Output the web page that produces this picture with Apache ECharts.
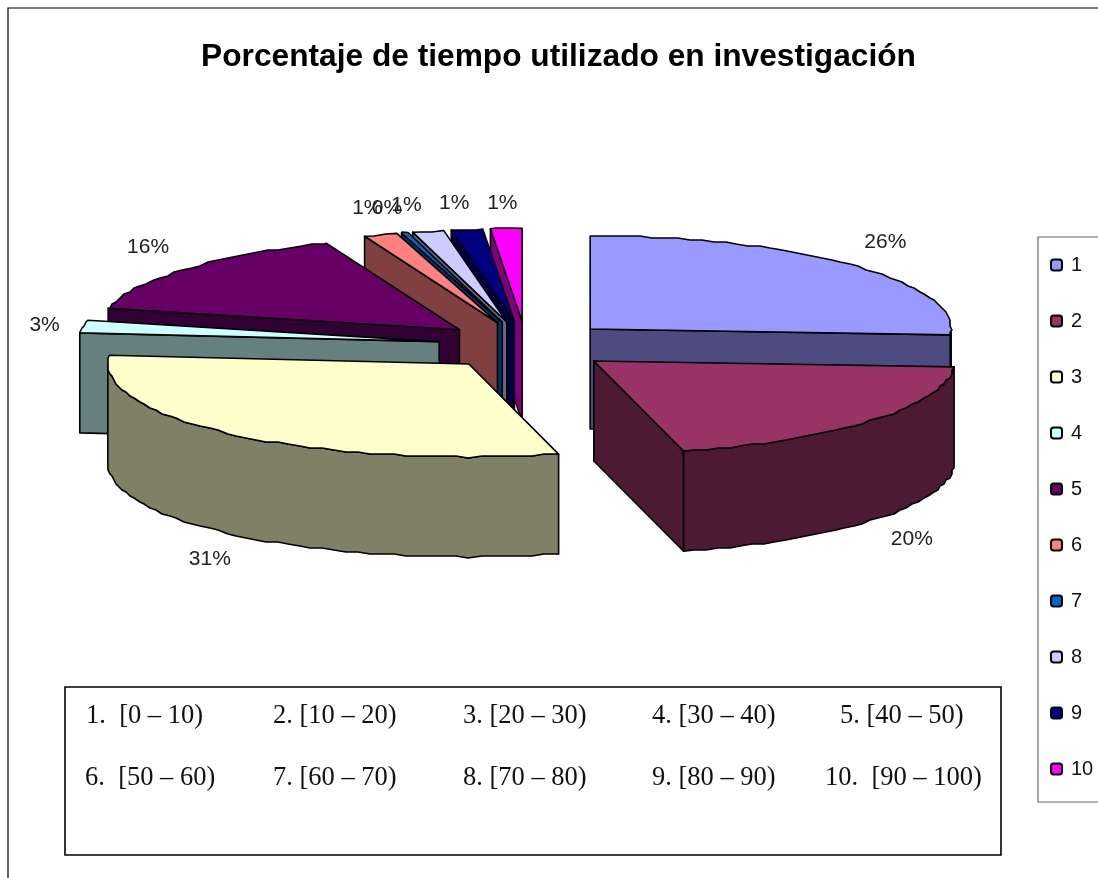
<!DOCTYPE html>
<html><head><meta charset="utf-8">
<style>html,body{margin:0;padding:0;background:#fff}#c{width:1098px;height:878px}</style>
<script src="https://cdn.jsdelivr.net/npm/echarts@6/dist/echarts.min.js"></script>
</head><body><div id="c"></div>
<script>
const titleText = 'Porcentaje de tiempo utilizado en investigación';
const categories = ['1','2','3','4','5','6','7','8','9','10'];
const shares = [26, 20, 30.5, 2.2, 15.3, 1.5, 0.3, 1.4, 1.4, 1.4];
const percentLabels = ['26%','20%','31%','3%','16%','1%','0%','1%','1%','1%'];
const faceColors = ['#9999FF','#993366','#FFFFCC','#CCFFFF','#660066','#FF8080','#0066CC','#CCCCFF','#000080','#FF00FF'];
const wallColors = ['#4C4C80','#4D1A33','#808066','#668080','#330033','#804040','#003366','#666680','#000040','#800080'];
const rangeRow1 = ['1.  [0 – 10)','2. [10 – 20)','3. [20 – 30)','4. [30 – 40)','5. [40 – 50)'];
const rangeRow2 = ['6.  [50 – 60)','7. [60 – 70)','8. [70 – 80)','9. [80 – 90)','10.  [90 – 100)'];
const drawOrder = [9,8,7,6,5,4,3,2,0,1];

const CX=526, CY=345.6, RX=361, RY=93, DEPTH=100, EXX=88, EXY=24.2, LBX=44, LBY=30, SNAP=2, STEP=2;
const labelNudge = [[0,-3],[6,0],[4,2],[5,4],[-5,-2],[1,2],[-6,4],[-12,3],[-7,4],[-2,5]];
const total = shares.reduce((a,b)=>a+b,0);
const cumBefore = shares.map((_,i)=>shares.slice(0,i).reduce((a,b)=>a+b,0));
const rad = d=>d*Math.PI/180;

function renderSlice(params, api){
  const i = params.seriesIndex, idx = drawOrder[i];
  const v = api.value(0), c = api.value(1);
  const a0 = c/total*360, a1 = (c+v)/total*360, m=(a0+a1)/2;
  const ax = CX+EXX*Math.sin(rad(m)), ay = CY-EXY*Math.cos(rad(m));
  const pt = (a,dz)=>[ax+RX*Math.sin(rad(a)), ay-RY*Math.cos(rad(a))+(dz||0)];
  const arc = (s,e,dz)=>{
    const r=[pt(s,dz)];
    for(let a=Math.floor(s/STEP+1)*STEP;a<e;a+=STEP){
      const p=pt(a,0);
      p[0]=Math.round(p[0]/SNAP)*SNAP;p[1]=Math.round(p[1]/SNAP)*SNAP+(dz||0);
      r.push(p);
    }
    r.push(pt(e,dz));
    return r;
  };
  const style = f=>({fill:f,stroke:'#000',lineWidth:1.6,lineJoin:'round'});
  const kids=[];
  const wallF = wallColors[idx];
  const radial = a=>[[ax,ay],pt(a),pt(a,DEPTH),[ax,ay+DEPTH]];
  if(Math.cos(rad(a0-90))<0) kids.push({type:'polygon',shape:{points:radial(a0)},style:style(wallF)});
  if(Math.cos(rad(a1+90))<0) kids.push({type:'polygon',shape:{points:radial(a1)},style:style(wallF)});
  const s=Math.max(a0,90), e=Math.min(a1,270);
  if(e>s){ kids.push({type:'polygon',shape:{points:arc(s,e,0).concat(arc(s,e,DEPTH).reverse())},style:style(wallF)}); }
  kids.push({type:'polygon',shape:{points:[[ax,ay]].concat(arc(a0,a1,0))},style:style(faceColors[idx])});
  const edge=pt(m, Math.cos(rad(m))<0?DEPTH:0);
  kids.push({type:'text',style:{text:percentLabels[idx],x:edge[0]+LBX*Math.sin(rad(m))+labelNudge[idx][0],y:edge[1]-LBY*Math.cos(rad(m))+labelNudge[idx][1],
    fill:'#222',font:'21px "Liberation Sans"',align:'center',verticalAlign:'middle'},z2:50});
  return {type:'group',children:kids};
}

const series = drawOrder.map(idx=>({
  type:'custom', name:categories[idx], coordinateSystem:'none', renderItem:renderSlice, silent:true, animation:false,
  itemStyle:{color:faceColors[idx]},
  data:[[shares[idx],cumBefore[idx]]]
}));

const colX=[[86,273,463,652,840],[85,273,463,652,825]];
const graphics=[
  {type:'polyline',shape:{points:[[8,878],[8,8],[1098,8]]},style:{stroke:'#000',lineWidth:1.2,fill:null},silent:true},
  {type:'rect',shape:{x:65,y:687,width:936,height:168},style:{fill:'#fff',stroke:'#000',lineWidth:1.6},silent:true}
];
[[rangeRow1,716.5],[rangeRow2,778.5]].forEach(([row,y],r)=>row.forEach((t,i)=>graphics.push({
  type:'text',x:colX[r][i],y:y,silent:true,z:10,style:{text:t,fill:'#111',font:'26.5px "Liberation Serif"',verticalAlign:'middle'}})));

echarts.init(document.getElementById('c'),null,{renderer:'canvas'}).setOption({
  animation:false,
  backgroundColor:'#fff',
  title:{text:titleText,left:553.5,top:36,textAlign:'center',textStyle:{fontFamily:'Liberation Sans',fontWeight:'bold',fontSize:31.7,color:'#000'}},
  legend:{orient:'vertical',left:1038,top:237,data:categories,itemWidth:11,itemHeight:11,itemGap:36,
    padding:[18,12,23,12],borderColor:'#666',borderWidth:1.2,selectedMode:false,
    itemStyle:{borderColor:'#000',borderWidth:2},
    textStyle:{fontFamily:'Liberation Sans',fontSize:20,color:'#111',lineHeight:20,padding:[0,0,0,4]}},
  graphic:graphics,
  series:series
});
</script></body></html>
